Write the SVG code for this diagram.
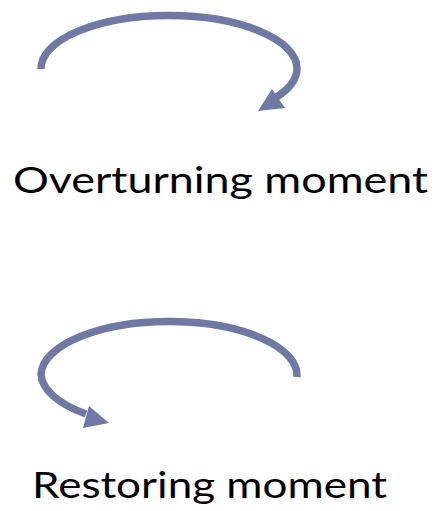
<svg xmlns="http://www.w3.org/2000/svg" width="436" height="511" viewBox="0 0 436 511">
<style>
.arc{fill:none;stroke:#6f79a3;stroke-width:7.5}
.head{fill:#6f79a3}
.lbl{font-family:Lato,"Liberation Sans",sans-serif;font-size:37px;fill:#000}
</style>
<rect width="436" height="511" fill="#fff"/>
<g id="connectors">
<g id="overturning-arrow">
<path class="arc" d="M41,69 A128,53 0 0 1 297,68 A128,53 0 0 1 275,98"/>
<polygon class="head" points="258,111 272,89 285,108"/>
</g>
<g id="restoring-arrow">
<path class="arc" d="M297,377 A128,54 0 0 0 41,374 A128,54 0 0 0 86,414"/>
<polygon class="head" points="109,423 89,406 83,428"/>
</g>
</g>
<g id="overturning">
<text class="lbl" x="13" y="193" textLength="415" lengthAdjust="spacingAndGlyphs">Overturning moment</text>
</g>
<g id="restoring">
<text class="lbl" x="32" y="498" textLength="355" lengthAdjust="spacingAndGlyphs">Restoring moment</text>
</g>
</svg>
